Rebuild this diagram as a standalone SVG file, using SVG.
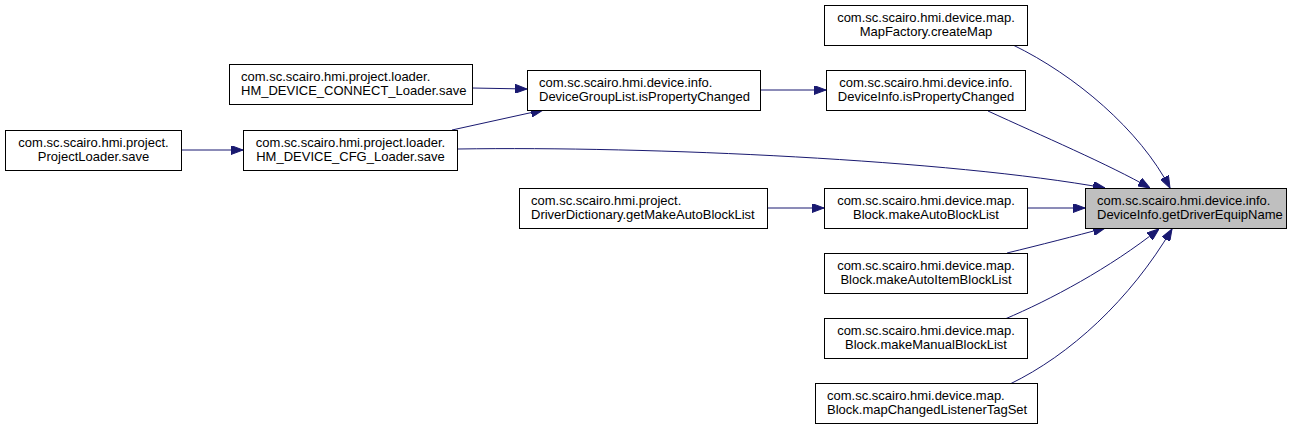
<svg xmlns="http://www.w3.org/2000/svg" width="1292" height="431" viewBox="0 0 1292 431">
<style>
.n rect{fill:#ffffff;stroke:#000000;stroke-width:1}
.n.cur rect{fill:#bfbfbf}
.n text{font-family:"Liberation Sans",Arial,sans-serif;font-size:13px;fill:#000000}
.c{text-anchor:middle}
.e path{fill:none;stroke:#191970;stroke-width:1}
</style>
<defs>
<marker id="ah" viewBox="0 0 12 9" refX="12" refY="4.5" markerWidth="12" markerHeight="9" orient="auto" markerUnits="userSpaceOnUse">
<path d="M0,0 L12,4.5 L0,9 z" fill="#191970" stroke="#191970" stroke-width="1"/>
</marker>
</defs>
<rect x="0" y="0" width="1292" height="431" fill="#ffffff"/>
<g id="edges" class="e">
<path d="M1013,45 C1075,75 1140,130 1170,188" marker-end="url(#ah)"/>
<path d="M988,111 C1040,135 1110,165 1150,188" marker-end="url(#ah)"/>
<path d="M458,149 C650,146 950,160 1105,188" marker-end="url(#ah)"/>
<path d="M1027,208 L1085,208" marker-end="url(#ah)"/>
<path d="M1007,253 C1040,245 1075,236 1105,228" marker-end="url(#ah)"/>
<path d="M1005,319 C1050,300 1110,268 1159,229" marker-end="url(#ah)"/>
<path d="M1010,384 C1070,355 1130,300 1172,229" marker-end="url(#ah)"/>
<path d="M760,90 L826,90" marker-end="url(#ah)"/>
<path d="M472,88 L527,89" marker-end="url(#ah)"/>
<path d="M452,130 L543,110" marker-end="url(#ah)"/>
<path d="M181,150 L243,150" marker-end="url(#ah)"/>
<path d="M767,208 L824,208" marker-end="url(#ah)"/>
</g>
<g id="node_target" class="n cur">
<rect x="1085.5" y="188.5" width="201" height="40"/>
<text x="1097" y="205">com.sc.scairo.hmi.device.info.</text>
<text x="1097" y="219">DeviceInfo.getDriverEquipName</text>
</g>
<g id="node_createMap" class="n">
<rect x="824.5" y="5.5" width="203" height="40"/>
<text class="c" x="926" y="22">com.sc.scairo.hmi.device.map.</text>
<text class="c" x="926" y="36">MapFactory.createMap</text>
</g>
<g id="node_infoIsPropertyChanged" class="n">
<rect x="826.5" y="70.5" width="199" height="40"/>
<text class="c" x="926" y="87">com.sc.scairo.hmi.device.info.</text>
<text class="c" x="926" y="101">DeviceInfo.isPropertyChanged</text>
</g>
<g id="node_groupIsPropertyChanged" class="n">
<rect x="527.5" y="70.5" width="233" height="40"/>
<text x="539" y="87">com.sc.scairo.hmi.device.info.</text>
<text x="539" y="101">DeviceGroupList.isPropertyChanged</text>
</g>
<g id="node_connectSave" class="n">
<rect x="229.5" y="64.5" width="243" height="40"/>
<text x="241" y="81">com.sc.scairo.hmi.project.loader.</text>
<text x="241" y="95">HM_DEVICE_CONNECT_Loader.save</text>
</g>
<g id="node_cfgSave" class="n">
<rect x="243.5" y="130.5" width="214" height="40"/>
<text class="c" x="350.5" y="147">com.sc.scairo.hmi.project.loader.</text>
<text class="c" x="350.5" y="161">HM_DEVICE_CFG_Loader.save</text>
</g>
<g id="node_projectLoaderSave" class="n">
<rect x="5.5" y="130.5" width="176" height="40"/>
<text class="c" x="93.5" y="147">com.sc.scairo.hmi.project.</text>
<text class="c" x="93.5" y="161">ProjectLoader.save</text>
</g>
<g id="node_driverDictionary" class="n">
<rect x="519.5" y="188.5" width="248" height="40"/>
<text x="531" y="205">com.sc.scairo.hmi.project.</text>
<text x="531" y="219">DriverDictionary.getMakeAutoBlockList</text>
</g>
<g id="node_makeAutoBlockList" class="n">
<rect x="824.5" y="188.5" width="203" height="40"/>
<text class="c" x="926" y="205">com.sc.scairo.hmi.device.map.</text>
<text class="c" x="926" y="219">Block.makeAutoBlockList</text>
</g>
<g id="node_makeAutoItemBlockList" class="n">
<rect x="824.5" y="253.5" width="203" height="40"/>
<text class="c" x="926" y="270">com.sc.scairo.hmi.device.map.</text>
<text class="c" x="926" y="284">Block.makeAutoItemBlockList</text>
</g>
<g id="node_makeManualBlockList" class="n">
<rect x="824.5" y="318.5" width="203" height="40"/>
<text class="c" x="926" y="335">com.sc.scairo.hmi.device.map.</text>
<text class="c" x="926" y="349">Block.makeManualBlockList</text>
</g>
<g id="node_mapChangedListenerTagSet" class="n">
<rect x="815.5" y="383.5" width="222" height="40"/>
<text x="827" y="400">com.sc.scairo.hmi.device.map.</text>
<text x="827" y="414">Block.mapChangedListenerTagSet</text>
</g>
</svg>
